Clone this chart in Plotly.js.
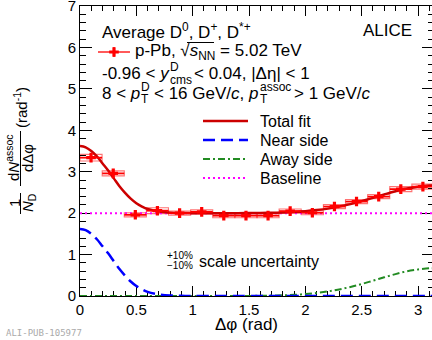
<!DOCTYPE html>
<html><head><meta charset="utf-8">
<script src="https://cdn.plot.ly/plotly-3.0.1.min.js"></script>
<style>html,body{margin:0;padding:0;overflow:hidden;background:#fff}#chart{width:436px;height:340px}</style>
</head><body><div id="chart"></div>
<script>
// ---- data ----
const binCenters = [0.098, 0.295, 0.491, 0.687, 0.884, 1.080, 1.276, 1.473, 1.669, 1.865, 2.062, 2.258, 2.454, 2.651, 2.847, 3.043];
const binHalfWidth = [0.098, 0.098, 0.098, 0.098, 0.098, 0.098, 0.098, 0.098, 0.098, 0.098, 0.098, 0.098, 0.098, 0.098, 0.098, 0.098];
const yields = [3.34, 2.96, 1.96, 2.06, 2.00, 2.03, 1.94, 1.94, 1.94, 2.05, 2.01, 2.16, 2.28, 2.40, 2.58, 2.64];
const statErr = [0.10, 0.09, 0.07, 0.08, 0.07, 0.07, 0.07, 0.07, 0.07, 0.07, 0.07, 0.07, 0.08, 0.08, 0.08, 0.08];
const sysErr = [0.08, 0.06, 0.05, 0.07, 0.05, 0.05, 0.05, 0.05, 0.05, 0.05, 0.05, 0.05, 0.05, 0.05, 0.06, 0.06];

const fitX = [0, 0.05, 0.1, 0.15, 0.2, 0.25, 0.3, 0.35, 0.4, 0.45, 0.5, 0.55, 0.6, 0.7, 0.8, 0.9, 1.0, 1.2, 1.4, 1.6, 1.7, 1.8, 1.9, 2.0, 2.1, 2.2, 2.3, 2.4, 2.5, 2.6, 2.7, 2.8, 2.9, 3.0, 3.1, 3.1416];
const totalFit = [3.62, 3.59, 3.50, 3.37, 3.20, 3.03, 2.84, 2.65, 2.49, 2.35, 2.24, 2.16, 2.10, 2.04, 2.013, 2.004, 2.0, 2.0, 2.0, 2.005, 2.01, 2.017, 2.029, 2.047, 2.074, 2.11, 2.159, 2.219, 2.29, 2.369, 2.451, 2.529, 2.596, 2.64, 2.669, 2.67];
const nearSide = [1.62, 1.59, 1.50, 1.37, 1.20, 1.03, 0.84, 0.65, 0.49, 0.35, 0.24, 0.16, 0.10, 0.04, 0.013, 0.004, 0, 0, 0, 0, 0, 0, 0, 0, 0, 0, 0, 0, 0, 0, 0, 0, 0, 0, 0, 0];
const awaySide = [0, 0, 0, 0, 0, 0, 0, 0, 0, 0, 0, 0, 0, 0, 0, 0, 0, 0, 0, 0.005, 0.01, 0.017, 0.029, 0.047, 0.074, 0.11, 0.159, 0.219, 0.29, 0.369, 0.451, 0.529, 0.596, 0.64, 0.669, 0.67];
const baseX = [0, 3.1416];
const baseline = [2.0, 2.0];

const xTicks = [0, 0.5, 1, 1.5, 2, 2.5, 3];
const xTickText = ['0', '0.5', '1', '1.5', '2', '2.5', '3'];
const yTicks = [0, 1, 2, 3, 4, 5, 6, 7];
const yTickText = ['0', '1', '2', '3', '4', '5', '6', '7'];

const legendLabels = ['Total fit', 'Near side', 'Away side', 'Baseline'];
const dataLabel = 'p-Pb, √<i>s</i><sub>NN</sub> = 5.02 TeV';

// ---- layout helpers (pixel -> paper) ----
const L = 80, R = 434, T = 6, B = 296;
const px = x => (x - L) / (R - L);
const py = y => (B - y) / (B - T);
const FONT = '"Liberation Sans", Arial, Helvetica, sans-serif';

const RED = '#ff0000', FITRED = '#cc0000', BLUE = '#0000ff', GREEN = '#228b22', MAG = '#ff00ff';

const traces = [
  {x: baseX, y: baseline, mode: 'lines', line: {color: MAG, width: 2, dash: '2px,3px'}, hoverinfo: 'skip'},
  {x: fitX, y: awaySide, mode: 'lines', line: {color: GREEN, width: 2, dash: '7px,3px,2px,3px', shape: 'spline'}, hoverinfo: 'skip'},
  {x: fitX, y: nearSide, mode: 'lines', line: {color: BLUE, width: 2.5, dash: '12px,6px', shape: 'spline'}, hoverinfo: 'skip'},
  {x: fitX, y: totalFit, mode: 'lines', line: {color: FITRED, width: 2.5, shape: 'spline'}, hoverinfo: 'skip'},
  {x: binCenters, y: yields, mode: 'markers', marker: {symbol: 'cross', size: 8, color: RED},
   error_y: {type: 'data', array: statErr, color: RED, thickness: 1.5, width: 0},
   error_x: {type: 'data', array: binHalfWidth, color: RED, thickness: 1.8, width: 0}, cliponaxis: false},
  // legend sample marker (overlay axes in paper units)
  {x: [px(114)], y: [py(52)], xaxis: 'x2', yaxis: 'y2', mode: 'markers', marker: {symbol: 'cross', size: 8, color: RED}, cliponaxis: false, hoverinfo: 'skip'}
];

const shapes = binCenters.map((c, i) => ({
  type: 'rect', xref: 'x', yref: 'y', layer: 'below',
  x0: c - binHalfWidth[i], x1: c + binHalfWidth[i], y0: yields[i] - sysErr[i], y1: yields[i] + sysErr[i],
  line: {color: 'rgba(255,0,0,0.55)', width: 1.1}, fillcolor: 'rgba(0,0,0,0)'
}));
const hl = (x0, x1, y, color, width, dash) => ({type: 'line', xref: 'paper', yref: 'paper', x0: px(x0), x1: px(x1), y0: py(y), y1: py(y), line: {color, width, dash: dash || 'solid'}});
const vl = (x, y0, y1, color, width) => ({type: 'line', xref: 'paper', yref: 'paper', x0: px(x), x1: px(x), y0: py(y0), y1: py(y1), line: {color, width}});
// legend samples
shapes.push(hl(98, 130, 52, RED, 1.3));
shapes.push(vl(114, 47, 57, RED, 1.3));
const legRows = [121, 140, 159, 178];
shapes.push(hl(203, 248, legRows[0], FITRED, 2.5));
shapes.push(hl(203, 248, legRows[1], BLUE, 2.5, '12px,6px'));
shapes.push(hl(203, 248, legRows[2], GREEN, 2, '7px,3px,2px,3px'));
shapes.push(hl(203, 248, legRows[3], MAG, 2, '2px,3px'));
// overline of sqrt
shapes.push(hl(187, 214, 42.5, '#000', 1));
// y title fraction bars
shapes.push(vl(20.5, 193, 214, '#000', 1));
shapes.push(vl(20.5, 131, 186, '#000', 1));

const ann = (text, x, y, o) => Object.assign({text, x: px(x), y: py(y), xref: 'paper', yref: 'paper', showarrow: false,
  xanchor: 'left', yanchor: 'middle', font: {family: FONT, size: 17, color: '#000'}}, o || {});
const fs = (s, extra) => Object.assign({font: {family: FONT, size: s, color: '#000'}}, extra || {});

const annotations = [
  ann('Average D<sup>0</sup>, D<sup>+</sup>, D<sup>*+</sup>', 100, 31),
  ann('ALICE', 361, 31),
  ann(dataLabel, 133, 52),
  ann('-0.96 &lt; <i>y</i>', 100, 73),
  ann('D', 168, 67, fs(12)),
  ann('cms', 168, 80, fs(12)),
  ann('&lt; 0.04, |Δη| &lt; 1', 192, 73),
  ann('8 &lt; <i>p</i>', 100, 93),
  ann('D', 139, 87, fs(12)),
  ann('T', 139, 99, fs(12)),
  ann('&lt; 16 GeV/<i>c</i>, <i>p</i>', 152, 93),
  ann('assoc', 258, 87, fs(12)),
  ann('T', 258, 99, fs(12)),
  ann('&gt; 1 GeV/<i>c</i>', 292, 93),
  ann(legendLabels[0], 258, legRows[0], fs(16)),
  ann(legendLabels[1], 258, legRows[1], fs(16)),
  ann(legendLabels[2], 258, legRows[2], fs(16)),
  ann(legendLabels[3], 258, legRows[3], fs(16)),
  ann('+10%', 165, 255, fs(10)),
  ann('−10%', 165, 265, fs(10)),
  ann('scale uncertainty', 197, 261, fs(16)),
  ann('Δφ (rad)', 246, 324, fs(17, {xanchor: 'center'})),
  ann('ALI-PUB-105977', 4, 333, {font: {family: '"DejaVu Sans Mono", monospace', size: 9, color: '#aaaaaa'}}),
  // y-axis title (rotated pieces)
  ann('1', 14, 203, fs(15, {xanchor: 'center', textangle: -90})),
  ann('<i>N</i><sub>D</sub>', 28, 203, fs(15, {xanchor: 'center', textangle: -90})),
  ann('d<i>N</i><sup>assoc</sup>', 13, 158, fs(15, {xanchor: 'center', textangle: -90})),
  ann('dΔφ', 28, 158, fs(15, {xanchor: 'center', textangle: -90})),
  ann('(rad<sup>-1</sup>)', 20, 108, fs(15, {xanchor: 'center', textangle: -90}))
];

const axisBase = {
  showline: true, linecolor: '#000', linewidth: 1, mirror: 'allticks', showgrid: false, zeroline: false,
  ticks: 'inside', tickcolor: '#000', tickwidth: 1, tickmode: 'array', fixedrange: true, layer: 'below traces',
  ticklabeloverflow: 'allow', tickfont: {family: FONT, size: 15, color: '#000'}
};
const layout = {
  width: 436, height: 340, margin: {l: L, r: 436 - R, t: T, b: 340 - B},
  paper_bgcolor: '#fff', plot_bgcolor: '#fff', showlegend: false,
  xaxis: Object.assign({}, axisBase, {range: [0, Math.PI], tickvals: xTicks, ticktext: xTickText, ticklen: 10,
    minor: {tickmode: 'linear', tick0: 0, dtick: 0.1, ticks: 'inside', ticklen: 5, tickcolor: '#000', showgrid: false}}),
  yaxis: Object.assign({}, axisBase, {range: [0, 7.002], tickvals: yTicks, ticktext: yTickText, ticklen: 12,
    minor: {tickmode: 'linear', tick0: 0, dtick: 0.2, ticks: 'inside', ticklen: 6, tickcolor: '#000', showgrid: false}}),
  xaxis2: {overlaying: 'x', range: [0, 1], visible: false, fixedrange: true},
  yaxis2: {overlaying: 'y', range: [0, 1], visible: false, fixedrange: true},
  shapes, annotations
};
Plotly.newPlot('chart', traces, layout, {staticPlot: true});
</script></body></html>
